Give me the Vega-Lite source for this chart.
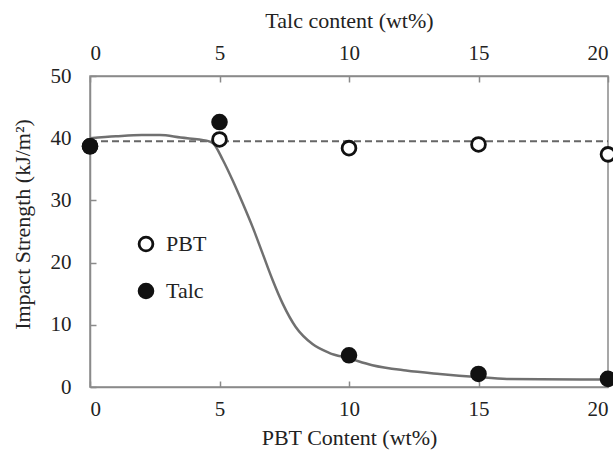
{
  "$schema": "https://vega.github.io/schema/vega-lite/v6.json",
  "width": 518,
  "height": 311,
  "autosize": "none",
  "padding": {"left": 90, "top": 76, "right": 5, "bottom": 65},
  "background": "white",
  "config": {
    "view": {"stroke": "#8a8a8a", "strokeWidth": 1.5},
    "font": "Liberation Serif, Times New Roman, serif",
    "axis": {
      "grid": false,
      "domainColor": "#8a8a8a",
      "domainWidth": 1.5,
      "tickColor": "#8a8a8a",
      "tickWidth": 1.5,
      "tickSize": -6,
      "labelFont": "Liberation Serif, Times New Roman, serif",
      "labelFontSize": 21,
      "labelColor": "#222",
      "titleFont": "Liberation Serif, Times New Roman, serif",
      "titleFontSize": 22,
      "titleFontWeight": "normal",
      "titleColor": "#222"
    },
    "legend": {
      "labelFont": "Liberation Serif, Times New Roman, serif",
      "labelFontSize": 22,
      "labelColor": "#222"
    }
  },
  "datasets": {
    "points": [
      {"content": 0, "strength": 38.7, "series": "PBT"},
      {"content": 5, "strength": 39.8, "series": "PBT"},
      {"content": 10, "strength": 38.4, "series": "PBT"},
      {"content": 15, "strength": 39.0, "series": "PBT"},
      {"content": 20, "strength": 37.4, "series": "PBT"},
      {"content": 0, "strength": 38.7, "series": "Talc"},
      {"content": 5, "strength": 42.6, "series": "Talc"},
      {"content": 10, "strength": 5.1, "series": "Talc"},
      {"content": 15, "strength": 2.1, "series": "Talc"},
      {"content": 20, "strength": 1.3, "series": "Talc"}
    ],
    "dashed": [
      {"content": 0, "strength": 39.5},
      {"content": 20, "strength": 39.5}
    ],
    "curve": [
      {"content": 0, "strength": 40.0},
      {"content": 1, "strength": 40.3},
      {"content": 2, "strength": 40.5},
      {"content": 2.7, "strength": 40.5},
      {"content": 3.5, "strength": 40.1},
      {"content": 4.5, "strength": 39.6},
      {"content": 4.75, "strength": 39.2},
      {"content": 5.13, "strength": 36.5},
      {"content": 5.51, "strength": 33.2},
      {"content": 5.9, "strength": 29.5},
      {"content": 6.28, "strength": 25.7},
      {"content": 6.67, "strength": 21.4},
      {"content": 7.05, "strength": 17.2},
      {"content": 7.44, "strength": 13.4},
      {"content": 7.95, "strength": 9.6},
      {"content": 8.59, "strength": 6.9},
      {"content": 9.23, "strength": 5.5},
      {"content": 10.0, "strength": 4.6},
      {"content": 10.9, "strength": 3.5},
      {"content": 12.2, "strength": 2.65},
      {"content": 13.5, "strength": 2.1},
      {"content": 14.95, "strength": 1.6},
      {"content": 16.1, "strength": 1.3},
      {"content": 17.4, "strength": 1.25},
      {"content": 20, "strength": 1.2}
    ]
  },
  "layer": [
    {
      "data": {"name": "dashed"},
      "mark": {"type": "line", "stroke": "#666", "strokeWidth": 2, "strokeDash": [7, 4]},
      "encoding": {
        "x": {"field": "content", "type": "quantitative",
              "scale": {"domain": [0, 20], "nice": false},
              "axis": {"orient": "top", "title": "Talc content (wt%)", "values": [0, 5, 10, 15, 20], "labelPadding": 18.5, "titlePadding": 10}},
        "y": {"field": "strength", "type": "quantitative",
              "scale": {"domain": [0, 50], "nice": false},
              "axis": {"title": "Impact Strength (kJ/m²)", "values": [0, 10, 20, 30, 40, 50], "labelPadding": 25, "titlePadding": 16, "titleY": 148}}
      }
    },
    {
      "data": {"name": "curve"},
      "mark": {"type": "line", "stroke": "#707070", "strokeWidth": 2.5, "interpolate": "monotone"},
      "encoding": {
        "x": {"field": "content", "type": "quantitative",
              "axis": {"orient": "bottom", "title": "PBT Content (wt%)", "values": [0, 5, 10, 15, 20], "labelPadding": 17.5, "titlePadding": 8}},
        "y": {"field": "strength", "type": "quantitative"}
      }
    },
    {
      "data": {"name": "points"},
      "mark": {"type": "point", "shape": "circle", "size": 190, "stroke": "#111", "strokeWidth": 2.8, "filled": false, "opacity": 1},
      "encoding": {
        "x": {"field": "content", "type": "quantitative", "axis": null},
        "y": {"field": "strength", "type": "quantitative"},
        "fill": {"field": "series", "type": "nominal",
                 "scale": {"domain": ["PBT", "Talc"], "range": ["white", "#111"]},
                 "legend": {"title": null, "orient": "none", "legendX": 45, "legendY": 157,
                            "symbolType": "circle", "symbolSize": 190, "symbolStrokeColor": "#111",
                            "symbolStrokeWidth": 2.8, "rowPadding": 21, "labelOffset": 9}},
        "order": {"field": "series", "sort": "ascending"}
      }
    }
  ],
  "resolve": {"axis": {"x": "independent"}}
}
